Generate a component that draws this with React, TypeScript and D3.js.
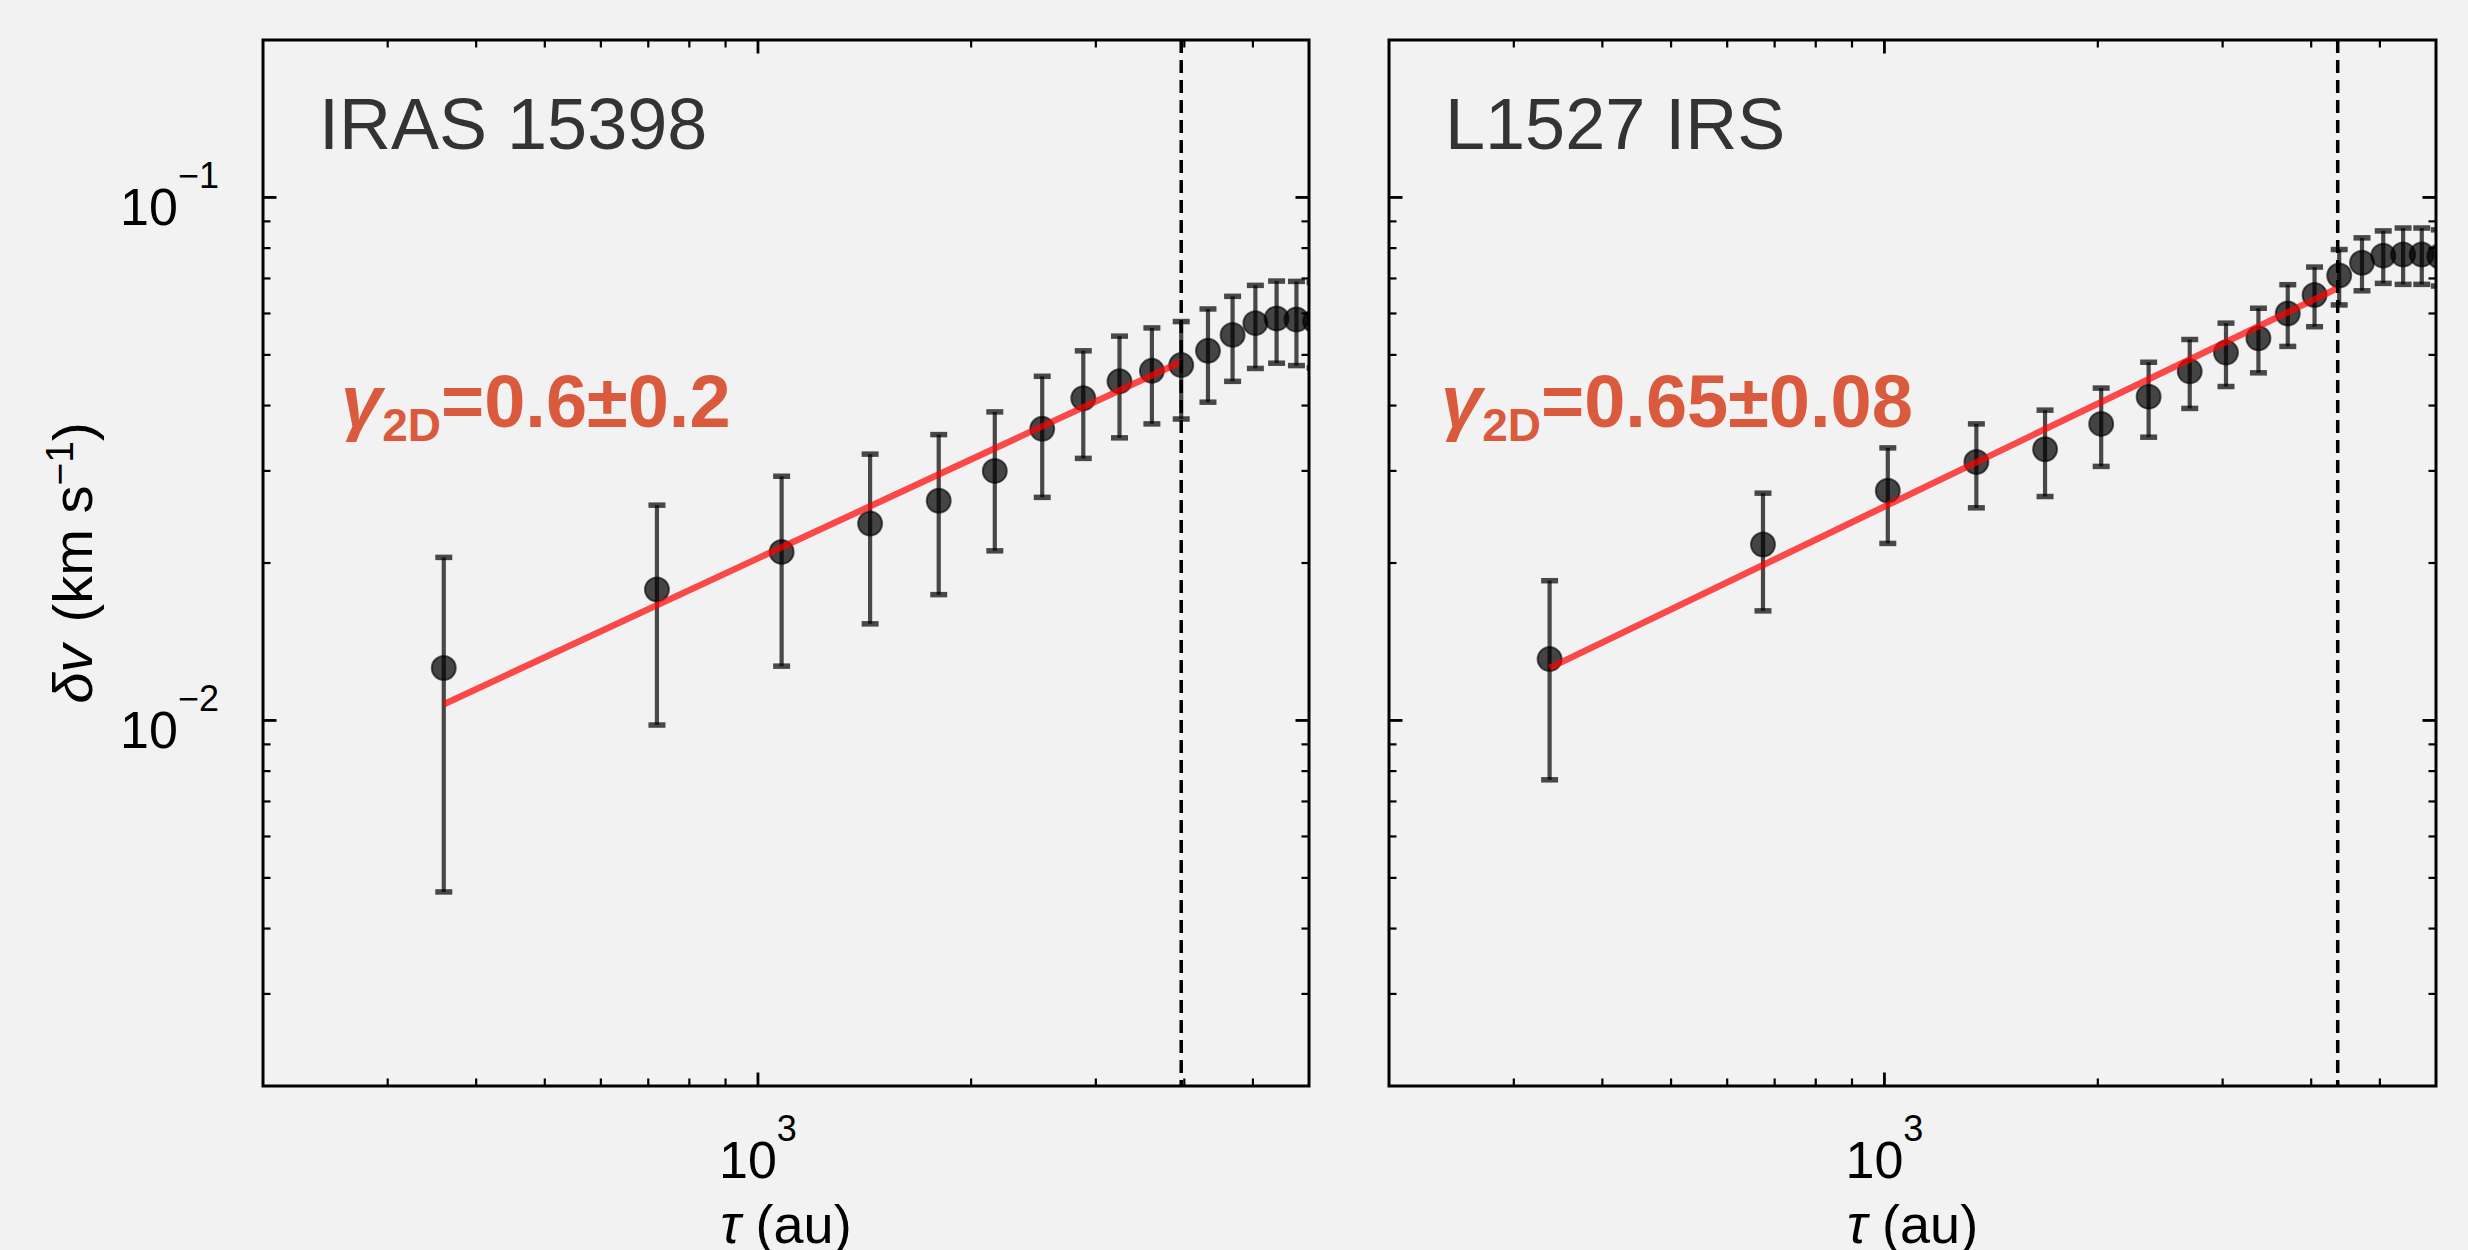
import React from 'react'
import * as d3 from 'd3'

// IRAS 15398: lag tau (au), velocity dispersion and 1-sigma error (km/s)
const tauIras = [360, 720, 1080, 1440, 1800, 2160, 2520, 2880, 3240, 3600, 3960, 4320, 4680, 5040, 5400, 5760, 6120]
const dvIras = [0.0126, 0.0178, 0.0210, 0.0238, 0.0263, 0.0300, 0.0361, 0.0413, 0.0445, 0.0466, 0.0478, 0.0509, 0.0546, 0.0575, 0.0587, 0.0584, 0.0580]
const errIras = [0.0079, 0.0080, 0.0083, 0.0085, 0.0089, 0.0089, 0.0094, 0.0096, 0.0098, 0.0097, 0.0101, 0.0103, 0.0101, 0.0104, 0.0105, 0.0107, 0.0108]
const fitTauIras = [360, 3960]
const fitDvIras = [0.01074, 0.0485]
const cutIras = 3960

// L1527 IRS
const tauL1527 = [337, 674, 1011, 1348, 1685, 2022, 2359, 2696, 3033, 3370, 3707, 4044, 4381, 4718, 5055, 5392, 5729, 6066]
const dvL1527 = [0.0131, 0.0217, 0.0275, 0.0312, 0.0330, 0.0369, 0.0416, 0.0465, 0.0505, 0.0538, 0.0600, 0.0651, 0.0709, 0.0750, 0.0774, 0.0778, 0.0778, 0.0772]
const errL1527 = [0.0054, 0.0055, 0.0057, 0.0057, 0.0062, 0.0063, 0.0068, 0.0070, 0.0070, 0.0076, 0.0081, 0.0085, 0.0086, 0.0087, 0.0089, 0.0096, 0.0096, 0.0095]
const fitTauL1527 = [337, 4381]
const fitDvL1527 = [0.0126, 0.0673]
const cutL1527 = 4360

const tauDomain = [200, 6000]
const dvDomain = [0.002, 0.2]
const xMajorLabels = [{ v: 1000, exp: '3' }]
const yMajorLabels = [{ v: 0.1, exp: '\u22121' }, { v: 0.01, exp: '\u22122' }]

const W = 2468
const H = 1250
const TOP = 40
const BOTTOM = 1086
const BG = '#f2f2f2'
const FONT = '"Liberation Sans", Arial, Helvetica, sans-serif'
const RED_TEXT = '#da5a3e'

const isMajor = (v) => Math.abs(Math.log10(v) - Math.round(Math.log10(v))) < 1e-6

const Panel = ({ id, x0, x1, tau, dv, err, fitTau, fitDv, cut, name, nameDx, gamma, gammaDx, showY }) => {
  const x = d3.scaleLog().domain(tauDomain).range([x0, x1])
  const y = d3.scaleLog().domain(dvDomain).range([BOTTOM, TOP])
  const xt = x.ticks().filter(v => x(v) > x0 + 1 && x(v) < x1 - 1)
  const yt = y.ticks().filter(v => y(v) > TOP + 1 && y(v) < BOTTOM - 1)
  const fitLine = d3.line().x(d => x(d[0])).y(d => y(d[1]))(fitTau.map((t, i) => [t, fitDv[i]]))
  const cx = (x0 + x1) / 2

  return (
    <g>
      <defs>
        <clipPath id={id}>
          <rect x={x0} y={TOP} width={x1 - x0} height={BOTTOM - TOP} />
        </clipPath>
      </defs>
      <g clipPath={`url(#${id})`}>
        {tau.map((t, i) => (
          <g key={i} stroke="#000" strokeOpacity={0.7}>
            <line x1={x(t)} x2={x(t)} y1={y(dv[i] + err[i])} y2={y(dv[i] - err[i])} strokeWidth={4.2} />
            <line x1={x(t) - 8.5} x2={x(t) + 8.5} y1={y(dv[i] + err[i])} y2={y(dv[i] + err[i])} strokeWidth={5.5} />
            <line x1={x(t) - 8.5} x2={x(t) + 8.5} y1={y(dv[i] - err[i])} y2={y(dv[i] - err[i])} strokeWidth={5.5} />
          </g>
        ))}
        {tau.map((t, i) => (
          <circle key={i} cx={x(t)} cy={y(dv[i])} r={12}
            fill="#000" fillOpacity={0.72} stroke="#000" strokeOpacity={0.6} strokeWidth={2} />
        ))}
        <path d={fitLine} fill="none" stroke="#ff0000" strokeOpacity={0.7} strokeWidth={6.5} />
        <line x1={x(cut)} x2={x(cut)} y1={TOP} y2={BOTTOM} stroke="#000" strokeWidth={3.5} strokeDasharray="13,7" />
      </g>

      {xt.map(v => {
        const len = isMajor(v) ? 13.5 : 7.5
        const sw = isMajor(v) ? 2.8 : 2.2
        return (
          <g key={v} stroke="#000" strokeWidth={sw}>
            <line x1={x(v)} x2={x(v)} y1={BOTTOM} y2={BOTTOM - len} />
            <line x1={x(v)} x2={x(v)} y1={TOP} y2={TOP + len} />
          </g>
        )
      })}
      {yt.map(v => {
        const len = isMajor(v) ? 13.5 : 7.5
        const sw = isMajor(v) ? 2.8 : 2.2
        return (
          <g key={v} stroke="#000" strokeWidth={sw}>
            <line x1={x0} x2={x0 + len} y1={y(v)} y2={y(v)} />
            <line x1={x1} x2={x1 - len} y1={y(v)} y2={y(v)} />
          </g>
        )
      })}
      <rect x={x0} y={TOP} width={x1 - x0} height={BOTTOM - TOP} fill="none" stroke="#000" strokeWidth={3} />

      {xMajorLabels.map(d => (
        <text key={d.v} x={x(d.v)} y={1178} textAnchor="middle" fontFamily={FONT} fontSize={52} fill="#000">
          10<tspan fontSize={36} dy={-37}>{d.exp}</tspan>
        </text>
      ))}
      {showY && yMajorLabels.map(d => (
        <text key={d.v} x={x0 - 44} y={y(d.v) + 28} textAnchor="end" fontFamily={FONT} fontSize={52} fill="#000">
          10<tspan fontSize={36} dy={-37}>{d.exp}</tspan>
        </text>
      ))}

      <text x={cx} y={1243} textAnchor="middle" fontFamily={FONT} fontSize={54} fill="#000">
        <tspan fontStyle="italic">τ</tspan> (au)
      </text>

      <text x={x0 + nameDx} y={149} fontFamily={FONT} fontSize={72} fill="#333">{name}</text>

      <text x={x0 + gammaDx} y={427} fontFamily={FONT} fontWeight="bold" fill={RED_TEXT} fontSize={74}>
        <tspan fontStyle="italic">γ</tspan>
        <tspan fontSize={46} dy={14}>2D</tspan>
        <tspan dy={-14}>{gamma}</tspan>
      </text>
    </g>
  )
}

export default function App() {
  return (
    <svg width={W} height={H} style={{ position: 'absolute', left: 0, top: 0, background: BG }}>
      <rect x={0} y={0} width={W} height={H} fill={BG} />
      <Panel id="clip-iras" x0={263} x1={1309} tau={tauIras} dv={dvIras} err={errIras}
        fitTau={fitTauIras} fitDv={fitDvIras} cut={cutIras}
        name="IRAS 15398" nameDx={56} gamma="=0.6±0.2" gammaDx={78} showY={true} />
      <Panel id="clip-l1527" x0={1389} x1={2436} tau={tauL1527} dv={dvL1527} err={errL1527}
        fitTau={fitTauL1527} fitDv={fitDvL1527} cut={cutL1527}
        name="L1527 IRS" nameDx={56} gamma="=0.65±0.08" gammaDx={52} showY={false} />
      <text transform="translate(92,563) rotate(-90)" textAnchor="middle" fontFamily={FONT} fontSize={56} fill="#000">
        <tspan fontStyle="italic">δv</tspan>
        <tspan dx={22}>(km s</tspan>
        <tspan fontSize={39} dy={-19}>{'\u22121'}</tspan>
        <tspan dy={19}>)</tspan>
      </text>
    </svg>
  )
}
